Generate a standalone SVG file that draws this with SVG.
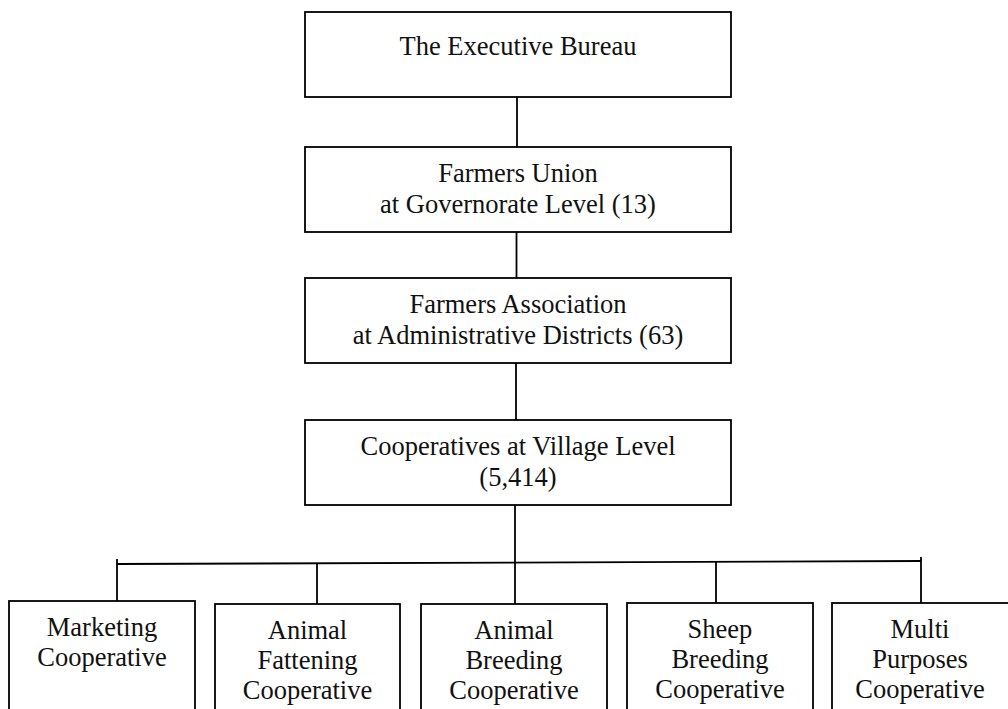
<svg xmlns="http://www.w3.org/2000/svg" width="1008" height="709" viewBox="0 0 1008 709">
  <style>
    .box { fill: #ffffff; stroke: #000000; stroke-width: 1.8; }
    .wire { fill: none; stroke: #000000; stroke-width: 1.8; }
    text { font-family: 'Liberation Serif', 'DejaVu Serif', serif; font-size: 26.5px; fill: #111111; text-anchor: middle; }
  </style>
  <rect width="1008" height="709" fill="#ffffff"/>

  <!-- connectors -->
  <g id="connectors">
    <line class="wire" x1="517" y1="97" x2="517" y2="147"/>
    <line class="wire" x1="516.5" y1="232" x2="516.5" y2="278"/>
    <line class="wire" x1="516" y1="363" x2="516" y2="420"/>
    <line class="wire" x1="515" y1="505" x2="515" y2="604"/>
    <line class="wire" x1="117" y1="564" x2="921" y2="561"/>
    <line class="wire" x1="117" y1="559" x2="117" y2="601"/>
    <line class="wire" x1="317" y1="563.5" x2="317" y2="604"/>
    <line class="wire" x1="716" y1="561.5" x2="716" y2="603"/>
    <line class="wire" x1="921" y1="557" x2="921" y2="603"/>
  </g>

  <!-- hierarchy -->
  <g id="executive-bureau" font-family="Liberation Serif, serif">
    <rect class="box" x="305" y="12" width="426" height="85"/>
    <text x="518" y="55">The Executive Bureau</text>
  </g>
  <g id="farmers-union">
    <rect class="box" x="305" y="147" width="426" height="85"/>
    <text x="518" y="182">Farmers Union</text>
    <text x="518" y="213">at Governorate Level (13)</text>
  </g>
  <g id="farmers-association">
    <rect class="box" x="305" y="278" width="426" height="85"/>
    <text x="518" y="313">Farmers Association</text>
    <text x="518" y="344">at Administrative Districts (63)</text>
  </g>
  <g id="village-cooperatives">
    <rect class="box" x="305" y="420" width="426" height="85"/>
    <text x="518" y="455">Cooperatives at Village Level</text>
    <text x="518" y="486">(5,414)</text>
  </g>

  <!-- cooperative types -->
  <g id="marketing">
    <rect class="box" x="9" y="601" width="186" height="130"/>
    <text x="102" y="636">Marketing</text>
    <text x="102" y="666">Cooperative</text>
  </g>
  <g id="animal-fattening">
    <rect class="box" x="215" y="604" width="185" height="130"/>
    <text x="307.5" y="639">Animal</text>
    <text x="307.5" y="669">Fattening</text>
    <text x="307.5" y="699">Cooperative</text>
  </g>
  <g id="animal-breeding">
    <rect class="box" x="421" y="604" width="186" height="130"/>
    <text x="514" y="639">Animal</text>
    <text x="514" y="669">Breeding</text>
    <text x="514" y="699">Cooperative</text>
  </g>
  <g id="sheep-breeding">
    <rect class="box" x="627" y="603" width="186" height="130"/>
    <text x="720" y="638">Sheep</text>
    <text x="720" y="668">Breeding</text>
    <text x="720" y="698">Cooperative</text>
  </g>
  <g id="multi-purposes">
    <rect class="box" x="832" y="603" width="186" height="130"/>
    <text x="920" y="638">Multi</text>
    <text x="920" y="668">Purposes</text>
    <text x="920" y="698">Cooperative</text>
  </g>
</svg>
